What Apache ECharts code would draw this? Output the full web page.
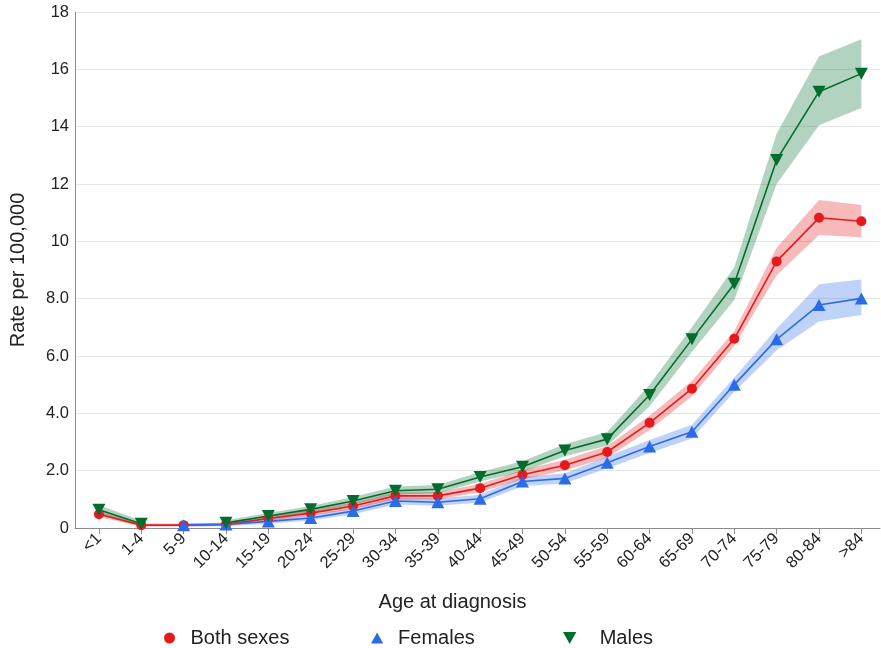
<!DOCTYPE html>
<html>
<head>
<meta charset="utf-8">
<script src="https://cdn.jsdelivr.net/npm/echarts@6/dist/echarts.min.js"></script>
<style>
  html, body { margin: 0; padding: 0; background: #fff; }
  #chart { width: 881px; height: 648px; }
</style>
</head>
<body>
<div id="chart"></div>
<script>
const categories = ['<1','1-4','5-9','10-14','15-19','20-24','25-29','30-34','35-39','40-44','45-49','50-54','55-59','60-64','65-69','70-74','75-79','80-84','>84'];

const bothRate  = [0.48, 0.10, 0.10, 0.13, 0.33, 0.52, 0.77, 1.12, 1.12, 1.39, 1.86, 2.19, 2.65, 3.67, 4.86, 6.60, 9.30, 10.82, 10.70];
const bothLow   = [0.38, 0.05, 0.05, 0.07, 0.25, 0.43, 0.66, 0.99, 0.99, 1.25, 1.70, 2.01, 2.45, 3.42, 4.60, 6.35, 8.82, 10.22, 10.14];
const bothHigh  = [0.58, 0.16, 0.16, 0.19, 0.42, 0.62, 0.88, 1.25, 1.25, 1.54, 2.02, 2.38, 2.86, 3.92, 5.13, 6.87, 9.78, 11.44, 11.27];

const femRate   = [null, null, 0.10, 0.12, 0.23, 0.35, 0.59, 0.94, 0.90, 1.02, 1.62, 1.73, 2.28, 2.84, 3.36, 5.00, 6.58, 7.78, 8.01];
const femLow    = [null, null, 0.05, 0.06, 0.15, 0.26, 0.48, 0.82, 0.78, 0.89, 1.46, 1.56, 2.08, 2.62, 3.12, 4.75, 6.20, 7.20, 7.43];
const femHigh   = [null, null, 0.16, 0.18, 0.31, 0.45, 0.71, 1.07, 1.03, 1.16, 1.78, 1.91, 2.49, 3.07, 3.60, 5.25, 6.95, 8.50, 8.67];

const maleRate  = [0.64, 0.15, null, 0.18, 0.42, 0.65, 0.94, 1.30, 1.35, 1.78, 2.14, 2.70, 3.10, 4.64, 6.58, 8.52, 12.84, 15.22, 15.85];
const maleLow   = [0.50, 0.08, null, 0.10, 0.32, 0.54, 0.82, 1.17, 1.21, 1.62, 1.96, 2.50, 2.87, 4.25, 6.15, 7.95, 12.00, 14.05, 14.65];
const maleHigh  = [0.80, 0.25, null, 0.27, 0.52, 0.77, 1.08, 1.45, 1.50, 1.95, 2.33, 2.92, 3.35, 5.00, 7.00, 9.10, 13.75, 16.45, 17.05];

const yTicks = [0, 2, 4, 6, 8, 10, 12, 14, 16, 18];

const RED = '#e41a1c', BLUE = '#2c6be6', GREEN = '#006d2c';
const FONT = 'Liberation Sans, Arial, sans-serif';

function hexA(hex, a) {
  const n = parseInt(hex.slice(1), 16);
  return 'rgba(' + ((n >> 16) & 255) + ',' + ((n >> 8) & 255) + ',' + (n & 255) + ',' + a + ')';
}

function pairs(arr) { return arr.map((v, i) => [i, v == null ? '-' : v]); }

function band(key, low, high, color) {
  return {
    name: key, type: 'custom', silent: true, z: 1, clip: true,
    data: low.map((v, i) => [i, v == null ? '-' : v, high[i] == null ? '-' : high[i]]),
    encode: { x: 0, y: [1, 2] },
    renderItem: function (params, api) {
      const i = params.dataIndex;
      if (low[i] == null || (i > 0 && low[i - 1] != null)) return null;
      let j = i;
      while (j + 1 < low.length && low[j + 1] != null) j++;
      if (j === i) return null;
      const top = [], bot = [];
      for (let k = i; k <= j; k++) {
        top.push(api.coord([k, high[k]]));
        bot.push(api.coord([k, low[k]]));
      }
      const pts = top.concat(bot.reverse());
      return { type: 'polygon', shape: { points: pts },
        style: { fill: hexA(color, 0.3), stroke: hexA(color, 0.0) } };
    }
  };
}

function mainLine(name, data, color, symbol, size, rotate) {
  return { name: name, type: 'line', data: pairs(data), symbol: symbol, symbolSize: size,
    symbolRotate: rotate || 0, showSymbol: true,
    lineStyle: { color: color, width: 1.6 }, itemStyle: { color: color, opacity: 1 }, z: 3 };
}

function legendItem(name, left, itemWidth, itemHeight, icon, color) {
  return { show: true, left: left, top: 628, padding: 0, itemWidth: itemWidth, itemHeight: itemHeight,
    data: [{ name: name, icon: icon, itemStyle: { color: color } }],
    textStyle: { fontSize: 20, fontFamily: FONT, color: '#222' }, selectedMode: false };
}

const chart = echarts.init(document.getElementById('chart'), null, { renderer: 'canvas' });
chart.setOption({
  animation: false,
  backgroundColor: '#fff',
  grid: { left: 73, right: 1, top: 12, bottom: 120, containLabel: false },
  legend: [
    legendItem('Both sexes', 164, 32, 11, 'circle', RED),
    legendItem('Females', 371, 32, 11, 'path://M5,0L10,9L0,9Z', BLUE),
    legendItem('Males', 563, 50, 12, 'path://M0,0L10,0L5,9Z', GREEN)
  ],
  xAxis: {
    type: 'value', min: -0.565, max: 18.44,
    name: 'Age at diagnosis', nameLocation: 'middle', nameGap: 64,
    nameTextStyle: { fontSize: 20, fontFamily: FONT, color: '#222', padding: [0, 50, 0, 0] },
    axisLine: { show: true, onZero: false, lineStyle: { color: '#8c8c8c', width: 1 } },
    axisTick: { show: true, length: 6, customValues: categories.map((c, i) => i), lineStyle: { color: '#8c8c8c' } },
    axisLabel: { show: true, rotate: 45, margin: 8, fontSize: 16.5, fontFamily: FONT, color: '#222',
      customValues: categories.map((c, i) => i),
      formatter: v => categories[Math.round(v)] },
    splitLine: { show: false }
  },
  yAxis: {
    type: 'value', min: 0, max: 18, interval: 2,
    name: 'Rate per 100,000', nameLocation: 'middle', nameGap: 47,
    nameTextStyle: { fontSize: 20, fontFamily: FONT, color: '#222' },
    axisLine: { show: true, onZero: false, lineStyle: { color: '#8c8c8c', width: 1 } },
    axisTick: { show: false },
    axisLabel: { fontSize: 16.5, fontFamily: FONT, color: '#222', margin: 6,
      formatter: v => v === 0 ? '0' : (v < 10 ? v.toFixed(1) : String(v)) },
    splitLine: { show: true, lineStyle: { color: '#e6e6e6', width: 1.2 } }
  },
  series: [
    band('fband', femLow, femHigh, BLUE),
    band('bband', bothLow, bothHigh, RED),
    band('mband', maleLow, maleHigh, GREEN),
    mainLine('Both sexes', bothRate, RED, 'circle', 10),
    mainLine('Females', femRate, BLUE, 'triangle', [13, 12]),
    mainLine('Males', maleRate, GREEN, 'triangle', [13, 12], 180)
  ]
});
</script>
</body>
</html>
